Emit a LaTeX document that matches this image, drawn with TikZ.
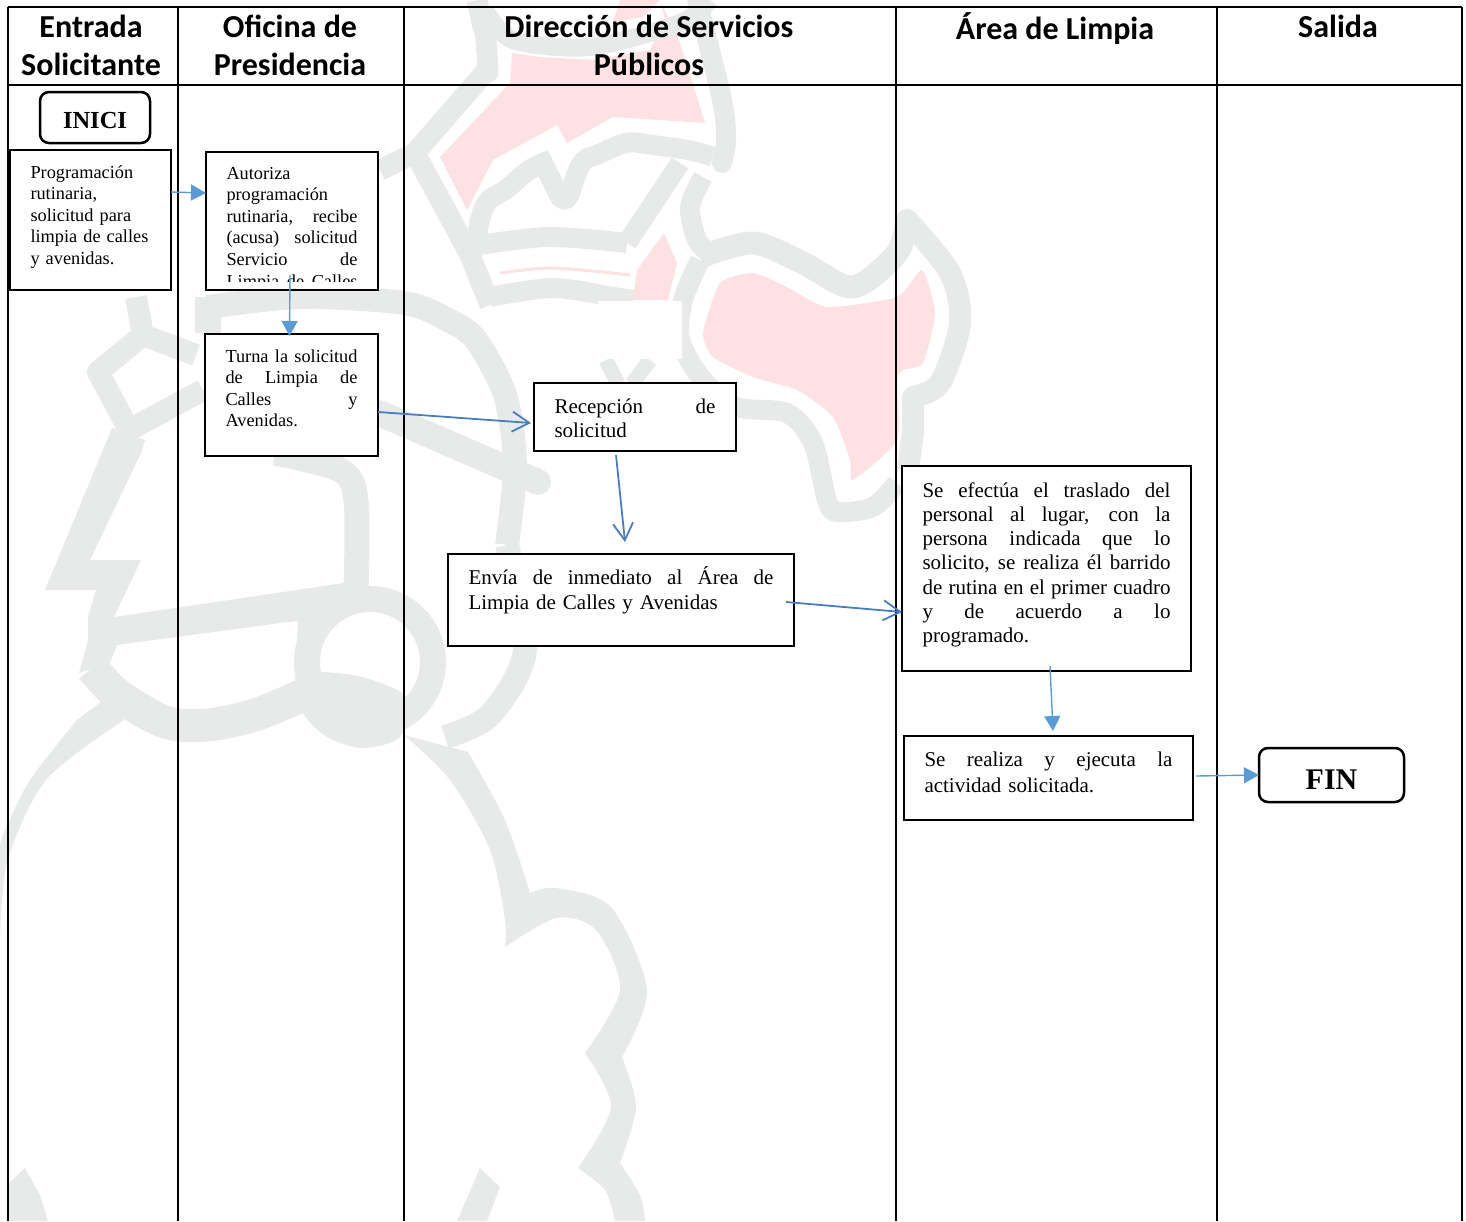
\documentclass[tikz,border=0pt]{standalone}
\usepackage{fontspec}
\setmainfont{Liberation Serif}
\newfontfamily\hdfont{Carlito}
\usetikzlibrary{arrows.meta,calc}
\definecolor{wmgray}{HTML}{E8EAE9}
\definecolor{wmpink}{HTML}{FDE1E3}
\definecolor{lineblue}{HTML}{5B9BD5}
\definecolor{darkblue}{HTML}{4A7EBB}
\newcommand{\jl}[2]{\leavevmode\hbox to #1pt{\spaceskip=0pt\relax\xspaceskip=0pt\relax #2}}
\newcommand{\fa}[1]{\rule{0pt}{#1pt}}
\newcommand{\fd}[1]{\rule[-#1pt]{0pt}{#1pt}}
\tikzset{
  gw/.style={draw=wmgray,line width=22pt,line join=round},
  gf/.style={fill=wmgray,draw=none},
  pk/.style={fill=wmpink,draw=none},
  grid/.style={draw=black,line width=2.2pt},
  hd/.style={inner sep=0pt,outer sep=0pt,align=center,font=\hdfont\bfseries\fontsize{32}{38}\selectfont,text=black},
  tbox/.style={draw=black,fill=white,line width=2.1pt,outer sep=0pt,anchor=north west,inner ysep=0pt,inner xsep=20.5pt,align=left},
  small/.style={font=\fontsize{18.3}{21.6}\selectfont},
  med/.style={font=\fontsize{21}{24.3}\selectfont},
  term/.style={draw=black,fill=white,line width=2.5pt,outer sep=0pt,rounded corners=9pt,inner sep=0pt},
  fillarrow/.style={draw=lineblue,line width=1.4pt,-{Triangle[length=15pt,width=16pt,fill=lineblue]}},
  openarrow/.style={draw=darkblue,line width=1.8pt,-{Straight Barb[length=17pt,width=20pt,line width=1.8pt]}}
}
\begin{document}
\begin{tikzpicture}[x=1pt,y=-1pt]
\useasboundingbox (0,0) rectangle (1466,1221);
\begin{scope}
\clip (0,0) rectangle (1466,1221);
% --- watermark: pink fills
\fill[pk] plot[smooth cycle,tension=0.35] coordinates {(703,333)(720,283)(753,273)(787,287)(827,307)(897,297)(922,270)(935,313)(923,363)(903,370)(897,380)(897,440)(853,480)(850,460)(833,417)(797,390)(753,377)(713,357)};
\fill[pk] (440,157)--(510,83)--(512,53)--(540,57)--(595,60)--(650,50)--(665,20)--(660,0)--(680,43)--(697,97)--(705,123)--(613,117)--(567,143)--(557,125)--(493,160)--(467,210)--cycle;
\fill[pk] (620,0)--(660,0)--(643,17)--(613,22)--cycle;
\fill[pk] (664,233)--(677,263)--(668,300)--(633,300)--(637,270)--cycle;
\draw[wmpink,line width=3pt] plot[smooth] coordinates {(500,273)(553,268)(630,275)};
% --- watermark: grey outlines
\draw[gw] (136,297)--(143,335)--(98,372)--(129,430)--(203,390);
\draw[gw] (143,335)--(196,355);
\draw[gw,line width=26pt] (208,297)--(208,333);
\fill[gf] (112,428)--(145,440)--(141,453)--(90,560)--(141,560)--(114,617)--(344,583)--(344,612)--(303,620)--(117,645)--(110,663)--(79,673)--(88,640)--(88,617)--(96,590)--(45,590)--cycle;
\draw[gw,line width=25pt] plot[smooth] coordinates {(356,590)(356,500)(340,470)(275,453)};
\draw[gw,line width=26pt] (370,662) circle[radius=63pt];
\draw[gw,line width=22pt] (310,600)--(306,680);
\draw[gw,line width=33pt] plot[smooth] coordinates {(92,668)(118,695)(165,722)(207,725)(255,715)(303,695)};
\fill[gf] plot[smooth cycle,tension=0.5] coordinates {(296,677)(318,672)(362,677)(406,697)(400,737)(362,748)(327,737)(303,713)};
\fill[gf] (110,695)--plot[smooth] coordinates {(77,720)(30,780)(5,830)(0,845)}--plot[smooth] coordinates {(0,947)(7,863)(46,780)(124,720)}--cycle;
% long arc
\draw[gw,line width=24pt] plot[smooth] coordinates {(208,307)(300,297)(404,303)(448,320)(476,340)(505,395)(515,465)(507,545)};
\draw[gw,line width=24pt] plot[smooth] coordinates {(507,545)(525,650)(490,715)(445,737)};
\draw[gw,line width=26pt,line cap=round] (379,413)--(538,482);
% crown
\draw[gw,line width=20pt] plot[smooth] coordinates {(490,297)(553,288)(614,297)(633,300)};
\draw[gw,line width=20pt] plot[smooth] coordinates {(467,247)(547,237)(627,243)};
\draw[gw,line width=21pt] (380,170)--(415,153)--(470,255)--(490,305);
\draw[gw,line width=21pt] (415,153)--(487,70) to[out=-80,in=85] (483,27)--(477,0);
\draw[gw,line width=18pt] plot[smooth] coordinates {(485,10)(513,40)(590,47)(680,23)(710,0)};
\draw[gw,line width=20pt,line cap=round] plot[smooth] coordinates {(697,0)(722,100)(726,140)(722,163)};
\draw[gw,line width=20pt,line join=miter] (470,247) to[out=-65,in=205] (493,197) to[out=25,in=200] (543,163)--(560,197) to[out=-45,in=195] (590,157) to[out=15,in=170] (640,143) to[out=-10,in=160] (713,157);
\draw[gw,line width=20pt] (627,243)--(680,163);
\draw[gw,line width=20pt] plot[smooth] coordinates {(703,177)(690,207)(697,240)(710,253)};
\draw[gw,line width=23pt] plot[smooth] coordinates {(700,257)(753,243)(803,263)(853,287)(897,253)(907,220)};
\draw[gw,line width=22pt,line cap=round] plot[smooth] coordinates {(907,220)(950,273)(960,323)(940,383)(913,397)};
\draw[gw,line width=22pt] (913,397)--(913,433)--(908,470);
\draw[gw,line width=20pt] plot[smooth] coordinates {(700,260)(683,300)(680,340)(703,380)(737,407)(787,413)(813,443)(827,500)(837,512)(873,507)(897,483)};
\draw[gw,line width=15pt] (606,360)--(618,384);
\draw[gw,line width=15pt] (650,360)--(632,384);
% lower lobes
\fill[gf] (404,735)--(468,752)--plot[smooth] coordinates {(468,752)(505,820)(530,893)}--plot[smooth] coordinates {(530,893)(556,888)(611,907)(647,990)(622,1057)}--plot[smooth] coordinates {(622,1057)(636,1107)(620,1163)}--plot[smooth] coordinates {(620,1163)(640,1195)(645,1221)}--(615,1221)--plot[smooth] coordinates {(615,1221)(605,1190)(578,1168)}--plot[smooth] coordinates {(578,1168)(611,1107)(585,1053)}--plot[smooth] coordinates {(585,1053)(620,990)(596,930)(556,918)(505,947)}--plot[smooth] coordinates {(505,947)(505,920)(490,850)(450,780)(404,735)}--cycle;
\fill[gf] (480,1168)--(457,1221)--(487,1221)--(500,1187)--cycle;
\fill[gf] (25,1168)--(9,1183)--(9,1221)--(48,1221)--(40,1195)--cycle;
% white patch
\fill[white] (598,301) rectangle (682,359);
\end{scope}
% --- table
\draw[grid] (8,7)--(1462,7);
\draw[grid] (8,85)--(1462,85);
\draw[grid] (8,7)--(8,1221);
\draw[grid] (178,7)--(178,1221);
\draw[grid] (404,7)--(404,1221);
\draw[grid] (896,7)--(896,1221);
\draw[grid] (1217,7)--(1217,1221);
\draw[grid] (1462,7)--(1462,1221);
\node[hd,anchor=north] (h1) at (91,12.5) {\fa{25}Entrada\\Solicitante};
\node[hd,anchor=north] (h2) at (290,12.5) {\fa{25}Oficina de\\Presidencia};
\node[hd,anchor=north] (h3) at (649,12.5) {\fa{25}Dirección de Servicios\\Públicos};
\node[hd,anchor=north] (h4) at (1055,12.5) {\fa{25}Área de Limpia};
\node[hd,anchor=north] (h5) at (1338,12.5) {\fa{25}Salida};
% --- nodes
\node[term,minimum width=110pt,minimum height=51pt,text height=21pt,text depth=0pt,font=\bfseries\fontsize{24.5}{26}\selectfont] (inici) at (95,117.5) {INICI};
\node[tbox,small,text width=120pt] (prog) at (10,150) {\fa{28}Programación\\rutinaria,\\solicitud para\\limpia de calles\\y avenidas.\fd{25.6}};
\node[draw=black,fill=white,line width=2.1pt,outer sep=0pt,anchor=north west,inner sep=0pt,minimum width=172pt,minimum height=138pt] (aut) at (206,152) {};
\begin{scope}
\clip (206,152) rectangle (378,281);
\node[small,anchor=north west,inner ysep=0pt,inner xsep=20.5pt,outer sep=0pt,align=left,text width=131pt] (auttext) at (206,152) {\fa{27}Autoriza\\programación\\\jl{131}{rutinaria, recibe}\\\jl{131}{(acusa) solicitud}\\\jl{131}{Servicio de}\\\jl{131}{Limpia de Calles}};
\end{scope}
\node[tbox,small,text width=132pt] (turna) at (205,334) {\fa{28}\jl{132}{Turna la solicitud}\\\jl{132}{de Limpia de}\\\jl{132}{Calles y}\\Avenidas.\fd{29.2}};
\node[tbox,med,text width=161pt] (recep) at (534,383) {\fa{30}\jl{161}{Recepción de}\\solicitud\fd{13.7}};
\node[tbox,med,text width=305pt] (envia) at (448,554) {\fa{30}\jl{305}{Envía de inmediato al Área de}\\[0.7pt]Limpia de Calles y Avenidas\fd{37}};
\node[tbox,med,text width=248pt] (efect) at (902,466) {\fa{31}\jl{248}{Se efectúa el traslado del}\\\jl{248}{personal al lugar, con la}\\\jl{248}{persona indicada que lo}\\\jl{248}{solicito, se realiza él barrido}\\\jl{248}{de rutina en el primer cuadro}\\\jl{248}{y de acuerdo a lo}\\programado.\fd{28.2}};
\node[tbox,med,text width=248pt] (real) at (904,736) {\fa{30}\jl{248}{Se realiza y ejecuta la}\\[1.7pt]actividad solicitada.\fd{28}};
\node[term,minimum width=145pt,minimum height=54pt,text height=28pt,text depth=0pt,font=\bfseries\fontsize{30}{32}\selectfont] (fin) at (1331.5,775) {FIN};
% --- connectors
\draw[fillarrow] ($(prog.north east)+(0,42)$) -- ($(aut.north west)+(0,41)$);
\draw[fillarrow] ($(aut.south)+(-2,-15)$) -- ($(turna.north)+(-2,2)$);
\draw[openarrow] ($(turna.north east)+(0,78)$) -- ($(recep.north west)+(-3,40)$);
\draw[openarrow] ($(recep.south)+(-19,4)$) -- ($(envia.north)+(4,-12)$);
\draw[openarrow] ($(envia.north east)+(-8,48)$) -- ($(efect.north west)+(0,146)$);
\draw[fillarrow] ($(efect.south)+(3.5,-5)$) -- ($(real.north)+(4.5,-5)$);
\draw[fillarrow] ($(real.north east)+(3,40)$) -- (fin.west);
\end{tikzpicture}
\end{document}
